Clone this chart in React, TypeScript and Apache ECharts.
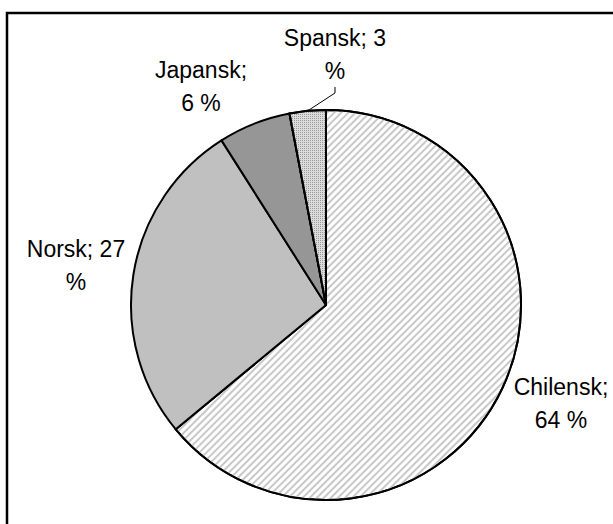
import React, { useEffect, useRef } from "react";
import * as echarts from "echarts";

const categories = ["Chilensk", "Norsk", "Japansk", "Spansk"];
const values = [64, 27, 6, 3];
// labels whose line break falls after the value
const breakAfterValue = ["Norsk", "Spansk"];

const labelPos: Record<string, [number, number]> = {
  Chilensk: [561, 403],
  Norsk: [76, 265],
  Japansk: [201, 86],
  Spansk: [335, 54],
};

export default function App() {
  const ref = useRef<HTMLDivElement>(null);
  useEffect(() => {
    if (!ref.current) return;
    const chart = echarts.init(ref.current, undefined, { renderer: "svg" });
    const styles: any[] = [
      {
        color: "#ffffff",
        decal: {
          symbol: "rect",
          symbolSize: 1,
          dashArrayX: [1, 0],
          dashArrayY: [2, 3],
          rotation: -Math.PI / 4,
          color: "#c8c8c8",
        },
      },
      { color: "#c0c0c0" },
      { color: "#969696" },
      {
        color: "#dcdcdc",
        decal: {
          symbol: "rect",
          symbolSize: 1,
          dashArrayX: [1, 1],
          dashArrayY: [1, 1],
          color: "#9a9a9a",
        },
      },
    ];
    const data = categories.map((name, i) => ({
      name,
      value: values[i],
      itemStyle: { ...styles[i], borderColor: "#000", borderWidth: 2 },
      labelLine: { show: name === "Spansk" },
    }));
    chart.setOption({
      animation: false,
      graphic: [
        {
          type: "rect",
          shape: { x: 7, y: 13, width: 700, height: 700 },
          style: { fill: "none", stroke: "#000", lineWidth: 2.5 },
          silent: true,
        },
      ],
      series: [
        {
          type: "pie",
          center: [326, 305],
          radius: 195,
          startAngle: 90,
          clockwise: true,
          data,
          label: {
            show: true,
            position: "outside",
            overflow: "none",
            fontFamily: "Liberation Sans, Arial, sans-serif",
            fontSize: 23,
            lineHeight: 33,
            color: "#000",
            align: "center",
            formatter: (p: any) =>
              breakAfterValue.includes(p.name)
                ? `${p.name}; ${p.value}\n%`
                : `${p.name};\n${p.value} %`,
          },
          labelLine: {
            show: true,
            length: 8,
            length2: 6,
            lineStyle: { color: "#000", width: 1 },
          },
          labelLayout: (params: any) => {
            const name = categories[params.dataIndex];
            const pos = labelPos[name];
            return {
              x: pos[0],
              y: pos[1],
              align: "center",
              verticalAlign: "middle",
            };
          },
        },
      ],
    });
    return () => chart.dispose();
  }, []);
  return (
    <div
      ref={ref}
      style={{ position: "fixed", left: 0, top: 0, width: 613, height: 524, background: "#fff" }}
    />
  );
}
